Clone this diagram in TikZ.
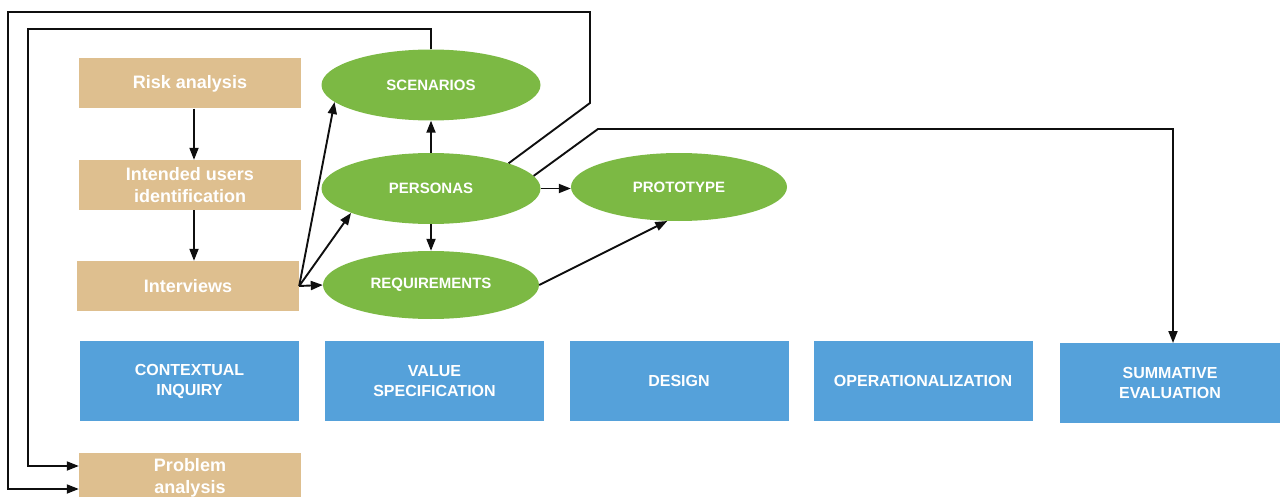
\documentclass[tikz,border=0pt]{standalone}
\usepackage{fontspec}
\setmainfont{Liberation Sans}
\usetikzlibrary{shapes.geometric,arrows.meta,calc}
\definecolor{tanc}{RGB}{222,191,143}
\definecolor{greenc}{RGB}{124,185,68}
\definecolor{bluec}{RGB}{85,161,218}
\definecolor{linec}{RGB}{15,15,15}
\begin{document}
\begin{tikzpicture}[x=1pt,y=-1pt,
  tanbox/.style={fill=tanc, text=white, font=\bfseries\fontsize{18}{22}\selectfont, minimum width=222pt, minimum height=50pt, inner sep=0pt, align=center},
  bluebox/.style={fill=bluec, text=white, font=\bfseries\fontsize{16}{20}\selectfont, minimum width=219pt, minimum height=80pt, inner sep=0pt, align=center},
  greenell/.style={ellipse, fill=greenc, text=white, font=\bfseries\fontsize{15}{17}\selectfont, minimum width=219pt, minimum height=71pt, inner sep=0pt},
  arr/.style={draw=linec, line width=1.9pt, -{Triangle[length=12pt,width=9pt]}},
  ln/.style={draw=linec, line width=1.9pt}]
\useasboundingbox (0,0) rectangle (1281,497);
% tan boxes
\node[tanbox] (risk) at (190,83.5) {Risk analysis};
\node[tanbox] (users) at (190,185) {Intended users\\identification};
\node[tanbox] (interv) at (188,286) {Interviews};
\node[tanbox, minimum height=50pt] (prob) at (190,478) {Problem\\analysis};
% ellipses
\node[greenell] (scen) at (431,85) {SCENARIOS};
\node[greenell] (pers) at (431,188.5) {PERSONAS};
\node[greenell, minimum width=216pt, minimum height=68pt] (proto) at (679,187) {PROTOTYPE};
\node[greenell, minimum width=216pt, minimum height=68pt] (req) at (431,285) {REQUIREMENTS};
% blue boxes
\node[bluebox] (ci) at (189.5,381) {CONTEXTUAL\\INQUIRY};
\node[bluebox] (vs) at (434.5,381) {VALUE\\SPECIFICATION};
\node[bluebox] (des) at (679,381) {DESIGN};
\node[bluebox] (op) at (923,381) {OPERATIONALIZATION};
\node[bluebox, minimum width=220pt] (summ) at (1170,383) {SUMMATIVE\\EVALUATION};
% coordinates
\coordinate (pa1) at (prob.west |- 0,466);
\coordinate (pa2) at (prob.west |- 0,489);
\coordinate (sumtop) at (1173,343);
\coordinate (r1) at (194,0);
% arrows
\draw[arr] (r1 |- risk.south) -- (r1 |- users.north);
\draw[arr] (r1 |- users.south) -- (r1 |- interv.north);
\draw[arr] (interv.east) -- (scen.190);
\draw[arr] (interv.east) -- (pers.197);
\draw[arr] (interv.east) -- (req.west);
\draw[arr] (pers.north) -- (pers.north |- scen.south);
\draw[arr] (pers.south) -- (pers.south |- req.north);
\draw[arr] (pers.east) -- (proto.west |- pers.east);
\draw[arr] (req.east) -- (proto.251);
\draw[arr] (scen.north) -- (431,29) -- (28,29) -- (28,466) -- (pa1);
\draw[arr] (pers.18) -- (590,103) -- (590,12) -- (8,12) -- (8,489) -- (pa2);
\draw[arr] (pers.7) -- (598,129) -- (1173,129) -- (sumtop);
\end{tikzpicture}
\end{document}
